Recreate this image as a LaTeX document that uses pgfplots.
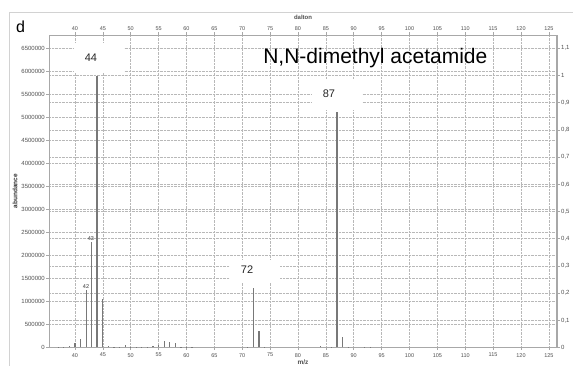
\documentclass[border=0pt]{standalone}
\usepackage{pgfplots}
\pgfplotsset{compat=1.18}
\usepackage{fontspec}
\setmainfont{Liberation Sans}
\definecolor{barc}{HTML}{787878}
\definecolor{axgray}{HTML}{A8A8A8}
\definecolor{gridgray}{HTML}{B8B8B8}
\definecolor{ticktext}{HTML}{505050}
\pgfplotstableread{
x y
37 10000
38 20000
39 40000
40 100000
41 180000
42 1240000
43 2290000
45 1050000
46 30000
47 10000
48 10000
49 50000
50 10000
51 20000
52 15000
53 20000
54 30000
55 60000
56 140000
57 110000
58 100000
59 20000
60 10000
61 5000
71 10000
72 1290000
73 360000
74 15000
84 40000
86 10000
87 5110000
88 230000
89 10000
92 10000
93 20000
}\spectrum
\pgfplotstableread{
x y
44 5900000
}\basepeak
\begin{document}
\begin{tikzpicture}[x=1pt,y=1pt]
\useasboundingbox (0,0) rectangle (573,366);
\fill[white] (0,0) rectangle (573,366);
\draw[gray!35, line width=0.8pt] (9,-10) rectangle (600,354);
\node[font=\fontsize{16}{16}\selectfont, inner sep=0pt] at (20.5,339) {d};
% right / top axis
\begin{axis}[
  at={(49pt,18.5pt)}, anchor=south west, scale only axis,
  width=508pt, height=312.5pt,
  xmin=35.34, xmax=126.46, ymin=0, ymax=1.149,
  /pgf/number format/assume math mode=true,
  axis line style={draw=none},
  xtick={40,45,...,125}, xtick pos=right, xticklabel pos=right,
  ytick={0,0.1,0.2,0.3,0.4,0.5,0.6,0.7,0.8,0.9,1,1.1},
  yticklabels={0,{0,1},{0,2},{0,3},{0,4},{0,5},{0,6},{0,7},{0,8},{0,9},1,{1,1}},
  ytick pos=right, yticklabel pos=right,
  ymajorgrids, grid style={densely dotted, gridgray, line width=0.5pt},
  tick align=outside, major tick length=2.5pt, tick style={axgray, line width=0.5pt},
  xticklabel style={font=\fontsize{5.5}{5.5}\selectfont, text=ticktext, inner sep=1.5pt},
  yticklabel style={font=\fontsize{6}{6}\selectfont, text=ticktext, inner sep=1.5pt},
  xlabel={dalton}, xlabel style={font=\bfseries\fontsize{6}{6}\selectfont, text=ticktext, at={(axis description cs:0.5,1.0576)}, anchor=center},
]
\end{axis}
% main axis
\begin{axis}[
  at={(49pt,18.5pt)}, anchor=south west, scale only axis,
  width=508pt, height=312.5pt,
  xmin=35.34, xmax=126.46, ymin=0, ymax=6790000,
  /pgf/number format/assume math mode=true,
  axis line style={axgray, line width=0.6pt},
  xtick={40,45,...,125}, xtick pos=left, xticklabel pos=left,
  ytick={0,500000,1000000,1500000,2000000,2500000,3000000,3500000,4000000,4500000,5000000,5500000,6000000,6500000},
  yticklabels={0,500000,1000000,1500000,2000000,2500000,3000000,3500000,4000000,4500000,5000000,5500000,6000000,6500000},
  ytick pos=left, yticklabel pos=left,
  scaled y ticks=false,
  grid=major, grid style={densely dotted, gridgray, line width=0.5pt},
  tick align=outside, major tick length=2.5pt, tick style={axgray, line width=0.5pt},
  xticklabel style={font=\fontsize{5.5}{5.5}\selectfont, text=ticktext, inner sep=1.5pt, yshift=-1.5pt},
  yticklabel style={font=\fontsize{6}{6}\selectfont, text=ticktext, inner sep=1.5pt},
  xlabel={m/z}, xlabel style={font=\bfseries\fontsize{6.5}{6.5}\selectfont, text=ticktext, at={(axis description cs:0.5,-0.046)}, anchor=center},
  ylabel={abundance}, ylabel style={font=\bfseries\fontsize{6.5}{6.5}\selectfont, text=black!80, at={(axis description cs:-0.067,0.5)}, anchor=center},
]
\fill[white] (axis cs:39.82,5985000) rectangle (axis cs:48.79,6615000);
\fill[white] (axis cs:82.51,5150000) rectangle (axis cs:91.48,5811000);
\fill[white] (axis cs:67.81,1401000) rectangle (axis cs:76.77,1901000);
\addplot[ycomb, barc, line width=1.2pt] table[x=x,y=y] {\spectrum};
\addplot[ycomb, barc, line width=1.8pt] table[x=x,y=y] {\basepeak};
\node[font=\fontsize{11}{11}\selectfont, text=black!85] at (axis cs:42.87,6289000) {44};
\node[font=\fontsize{11}{11}\selectfont, text=black!85] at (axis cs:85.56,5507000) {87};
\node[font=\fontsize{11}{11}\selectfont, text=black!85] at (axis cs:70.86,1684000) {72};
\node[font=\fontsize{5.5}{5.5}\selectfont, text=black!80] at (axis cs:41.98,1330000) {42};
\node[font=\fontsize{5.5}{5.5}\selectfont, text=black!80] at (axis cs:42.87,2370000) {43};
\node[font=\fontsize{21}{21}\selectfont, anchor=east] at (axis cs:114.6,6289000) {N,N-dimethyl acetamide};
\draw[axgray, line width=1.6pt] (rel axis cs:1,0) -- (rel axis cs:1,1);
\end{axis}
\end{tikzpicture}
\end{document}
